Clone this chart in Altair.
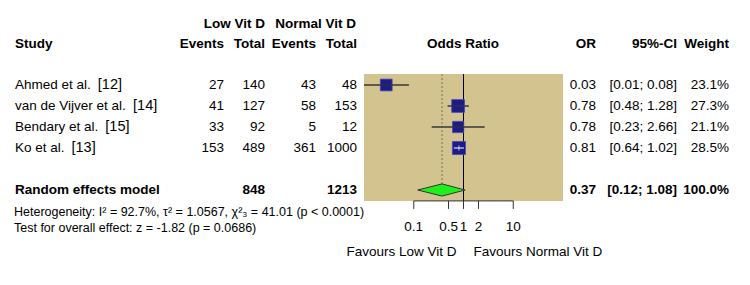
import altair as alt
import pandas as pd

# ---------------- data ----------------
study_names = ["Ahmed et al.", "van de Vijver et al.", "Bendary et al.", "Ko et al."]
study_refs = ["[12]", "[14]", "[15]", "[13]"]
ev_low = [27, 41, 33, 153]
tot_low = [140, 127, 92, 489]
ev_norm = [43, 58, 5, 361]
tot_norm = [48, 153, 12, 1000]
or_est = [0.028, 0.78, 0.78, 0.81]
ci_low = [0.01, 0.48, 0.23, 0.64]
ci_high = [0.08, 1.28, 2.66, 1.02]
weight = [23.1, 27.3, 21.1, 28.5]

pooled_label = "Random effects model"
pooled_tot_low = 848
pooled_tot_norm = 1213
pooled_or = 0.37
pooled_low = 0.12
pooled_high = 1.08
pooled_weight = 100.0

het_text = "Heterogeneity: I² = 92.7%, τ² = 1.0567, χ²₃ = 41.01 (p < 0.0001)"
test_text = "Test for overall effect: z = -1.82 (p = 0.0686)"
tick_values = [0.1, 0.5, 1, 2, 10]
tick_labels = ["0.1", "0.5", "1", "2", "10"]
label_left = "Favours Low Vit D"
label_right = "Favours Normal Vit D"

# ---------------- style / layout ----------------
FONT = "Liberation Sans"
FS = 13.5
FS_REF = 14.5
FS_SMALL = 12.5
BEIGE = "#D3C48F"
NAVY = "#1C1C88"
GREEN = "#1EF01E"
POOLED_ROW = 5
DIAMOND_HALF = 0.29
NAME_X = 15

# Arial / Liberation Sans advance widths (1/1000 em) for placing the reference tags
ARIAL_W = {"A": 667, "h": 556, "m": 833, "e": 556, "d": 556, "t": 278, "a": 556, "l": 222,
           ".": 278, "v": 500, "n": 556, "V": 667, "i": 222, "j": 222, "r": 333, "B": 667,
           "y": 500, "K": 667, "o": 556, " ": 278}


def text_width(s, size):
    return sum(ARIAL_W.get(c, 556) for c in s) * size / 1000.0


XS = alt.Scale(type="log", domain=[0.01, 100], range=[364, 563], nice=False)
YS = alt.Scale(domain=[0, 5], range=[85, 190], nice=False, zero=False)

df = pd.DataFrame({
    "study": study_names,
    "ref": study_refs,
    "ev_low": [str(v) for v in ev_low],
    "tot_low": [str(v) for v in tot_low],
    "ev_norm": [str(v) for v in ev_norm],
    "tot_norm": [str(v) for v in tot_norm],
    "est": or_est,
    "lo": ci_low,
    "hi": ci_high,
    "w": weight,
    "row": list(range(len(study_names))),
})
df["or_txt"] = [f"{v:.2f}" for v in or_est]
df["ci_txt"] = [f"[{l:.2f}; {h:.2f}]" for l, h in zip(ci_low, ci_high)]
df["w_txt"] = [f"{w:.1f}%" for w in weight]
df["ref_dx"] = [text_width(s, FS) + 7 for s in study_names]

pdf = pd.DataFrame({
    "study": [pooled_label],
    "tot_low": [str(pooled_tot_low)],
    "tot_norm": [str(pooled_tot_norm)],
    "or_txt": [f"{pooled_or:.2f}"],
    "ci_txt": [f"[{pooled_low:.2f}; {pooled_high:.2f}]"],
    "w_txt": [f"{pooled_weight:.1f}%"],
    "row": [POOLED_ROW],
})

one = pd.DataFrame({"a": [0]})


def col(data, field, x, align, bold=False):
    return alt.Chart(data).mark_text(
        align=align, baseline="middle", font=FONT, fontSize=FS,
        fontWeight="bold" if bold else "normal", color="black"
    ).encode(x=alt.value(x), y=alt.Y("row:Q", scale=YS, axis=None), text=f"{field}:N")


def label(text, x, y, align, bold=False, size=FS):
    return alt.Chart(pd.DataFrame({"t": [text]})).mark_text(
        align=align, baseline="middle", font=FONT, fontSize=size,
        fontWeight="bold" if bold else "normal", color="black"
    ).encode(x=alt.value(x), y=alt.value(y), text="t:N")


layers = []

# background panel
layers.append(alt.Chart(one).mark_rect(color=BEIGE).encode(
    x=alt.datum(0.01), x2=alt.datum(100), y=alt.datum(-0.52), y2=alt.datum(5.52)))
# reference line at 1
layers.append(alt.Chart(one).mark_rule(color="black", strokeWidth=1).encode(
    x=alt.datum(1), y=alt.datum(-0.52), y2=alt.datum(5.52)))
# dotted pooled line
layers.append(alt.Chart(one).mark_rule(color="#555555", strokeWidth=0.8, strokeDash=[2, 2]).encode(
    x=alt.datum(pooled_or), y=alt.datum(-0.52), y2=alt.datum(POOLED_ROW - DIAMOND_HALF)))

# CI lines
inner_col = alt.condition("datum.hi / datum.lo < 1.7", alt.value("white"), alt.value("#333333"))
layers.append(alt.Chart(df).mark_rule(color="#444444", strokeWidth=1).encode(
    x=alt.X("lo:Q", scale=XS, axis=None), x2="hi:Q",
    y=alt.Y("row:Q", scale=YS, axis=None)))
# squares
layers.append(alt.Chart(df).mark_square(fill=NAVY, stroke="#4646B8", strokeWidth=0.8, opacity=1).encode(
    x=alt.X("est:Q", scale=XS, axis=None),
    y=alt.Y("row:Q", scale=YS, axis=None),
    size=alt.Size("w:Q", scale=alt.Scale(domain=[0, 30], range=[0, 180]), legend=None)))
# inner line over squares
layers.append(alt.Chart(df).mark_rule(strokeWidth=1).encode(
    x=alt.X("lo:Q", scale=XS, axis=None), x2="hi:Q",
    y=alt.Y("row:Q", scale=YS, axis=None), color=inner_col))
layers.append(alt.Chart(df).mark_tick(orient="vertical", size=5, thickness=1).encode(
    x=alt.X("est:Q", scale=XS, axis=None),
    y=alt.Y("row:Q", scale=YS, axis=None), color=inner_col))

# diamond
ddf = pd.DataFrame({
    "x": [pooled_low, pooled_or, pooled_high],
    "y": [POOLED_ROW, POOLED_ROW - DIAMOND_HALF, POOLED_ROW],
    "y2": [POOLED_ROW, POOLED_ROW + DIAMOND_HALF, POOLED_ROW],
})
layers.append(alt.Chart(ddf).mark_area(orient="vertical", fill=GREEN, stroke="#333333",
                                      strokeWidth=1, opacity=1).encode(
    x=alt.X("x:Q", scale=XS, axis=None),
    y=alt.Y("y:Q", scale=YS, axis=None), y2="y2:Q"))

# manual x axis
tdf = pd.DataFrame({"v": tick_values, "lab": tick_labels})
layers.append(alt.Chart(one).mark_rule(color="#333333", strokeWidth=1).encode(
    x=alt.datum(min(tick_values)), x2=alt.datum(max(tick_values)), y=alt.datum(5.52)))
layers.append(alt.Chart(tdf).mark_rule(color="#333333", strokeWidth=1).encode(
    x=alt.X("v:Q", scale=XS, axis=None), y=alt.datum(5.52), y2=alt.datum(5.9)))
layers.append(alt.Chart(tdf).mark_text(align="center", baseline="middle", font=FONT,
                                      fontSize=FS, color="black").encode(
    x=alt.X("v:Q", scale=XS, axis=None), y=alt.value(227), text="lab:N"))
layers.append(alt.Chart(pd.DataFrame({"t": [label_left]})).mark_text(
    align="right", baseline="middle", font=FONT, fontSize=FS, color="black", dx=-7).encode(
    x=alt.datum(1), y=alt.value(252), text="t:N"))
layers.append(alt.Chart(pd.DataFrame({"t": [label_right]})).mark_text(
    align="left", baseline="middle", font=FONT, fontSize=FS, color="black", dx=10).encode(
    x=alt.datum(1), y=alt.value(252), text="t:N"))

# study reference tags (slightly larger)
layers.append(alt.Chart(df).transform_calculate(
    rx=f"{NAME_X} + datum.ref_dx").mark_text(
    align="left", baseline="middle", font=FONT, fontSize=FS_REF, color="black").encode(
    x=alt.X("rx:Q", scale=None), y=alt.Y("row:Q", scale=YS, axis=None), text="ref:N"))

# table columns
layers += [
    col(df, "study", NAME_X, "left"),
    col(df, "ev_low", 224, "right"),
    col(df, "tot_low", 265, "right"),
    col(df, "ev_norm", 316, "right"),
    col(df, "tot_norm", 357, "right"),
    col(df, "or_txt", 596, "right"),
    col(df, "ci_txt", 677, "right"),
    col(df, "w_txt", 729, "right"),
    col(pdf, "study", NAME_X, "left", True),
    col(pdf, "tot_low", 265, "right", True),
    col(pdf, "tot_norm", 357, "right", True),
    col(pdf, "or_txt", 596, "right", True),
    col(pdf, "ci_txt", 677, "right", True),
    col(pdf, "w_txt", 729, "right", True),
]

# headers
layers += [
    label("Low Vit D", 265, 24, "right", True),
    label("Normal Vit D", 356, 24, "right", True),
    label("Study", 15, 44, "left", True),
    label("Events", 224, 44, "right", True),
    label("Total", 265, 44, "right", True),
    label("Events", 316, 44, "right", True),
    label("Total", 357, 44, "right", True),
    label("Odds Ratio", 463, 44, "center", True),
    label("OR", 596, 44, "right", True),
    label("95%-CI", 677, 44, "right", True),
    label("Weight", 729, 44, "right", True),
    label(het_text, 14, 212, "left", False, FS_SMALL),
    label(test_text, 14, 228, "left", False, FS_SMALL),
]

chart = alt.layer(*layers).properties(
    width=750, height=285,
    autosize=alt.AutoSizeParams(type="none"),
    padding=0,
).configure_view(stroke=None).configure_axis(disable=True)

chart.save("out.html", embed_options={"renderer": "svg", "actions": False})
